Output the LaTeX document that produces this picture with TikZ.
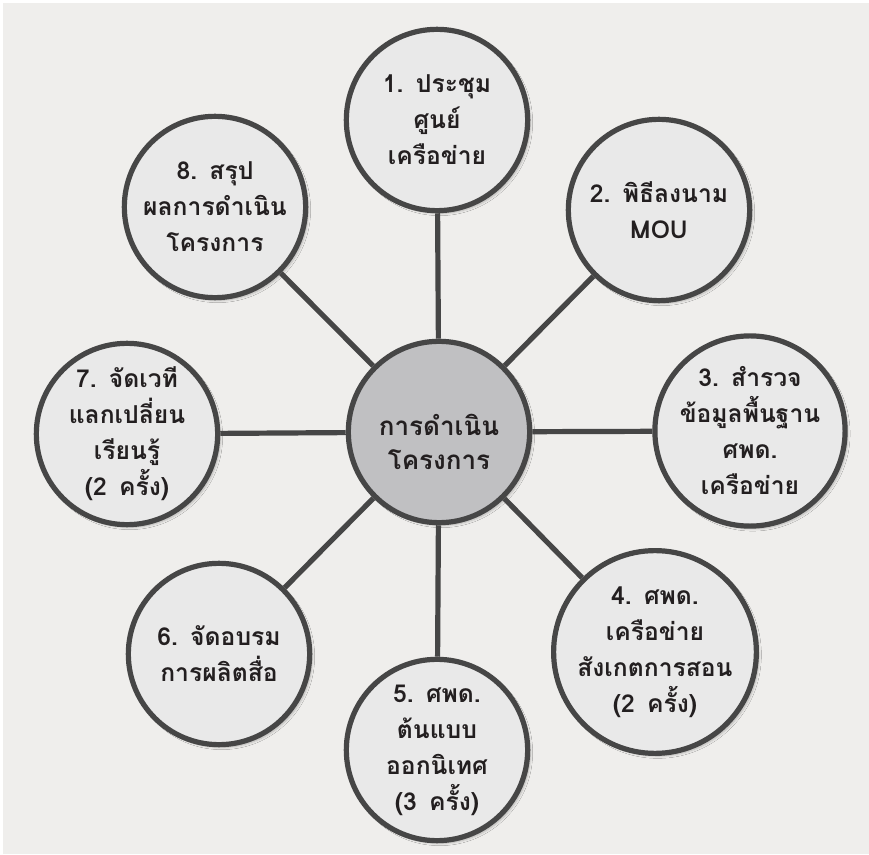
\documentclass[tikz,border=0pt]{standalone}
\usepackage{fontspec}
\newfontfamily\thaifont[Script=Thai]{Loma}
\usetikzlibrary{shadows.blur}

\definecolor{paper}{HTML}{EFEEEC}
\definecolor{rim}{HTML}{464646}
\definecolor{leaf}{HTML}{E9E9E9}
\definecolor{hub}{HTML}{C0C0C2}
\definecolor{ink}{HTML}{231F20}
\newcommand{\numgap}{\hspace{0.5em}}

\begin{document}
\begin{tikzpicture}[x=0.75pt,y=0.75pt,yscale=-1,xscale=1,
    bubble/.style={circle, draw=rim, line width=3.9pt, fill=leaf, minimum size=136pt,
        inner sep=0pt, align=center, text=ink,
        font=\thaifont\bfseries\fontsize{18.5}{27}\selectfont,
        blur shadow={shadow xshift=2pt, shadow yshift=-2pt, shadow opacity=25, shadow blur steps=6}},
    hubbubble/.style={bubble, fill=hub},
    hubtext/.style={align=center, text=ink, inner sep=0pt,
        font=\thaifont\bfseries\fontsize{19.5}{26}\selectfont},
    spoke/.style={draw=rim, line width=3.9pt}]

            % Frame
            \useasboundingbox (0,0) rectangle (869,855);
            \fill[paper] (3,3) rectangle (869,854);

            % Circles
            \node[hubbubble] (plan) at (439,432) {};
            \node[hubtext] (plantext) at (439,442) {การดำเนิน\\โครงการ};
            \node[bubble] (meet)   at (437,120) {1.\numgap ประชุม\\ศูนย์\\เครือข่าย};
            \node[bubble] (mou)    at (659,210) {2.\numgap พิธีลงนาม\\MOU};
            \node[bubble] (survey) at (750,431) {3.\numgap สำรวจ\\ข้อมูลพื้นฐาน\\ศพด.\\เครือข่าย};
            \node[bubble] (observe) at (655,652) {4.\numgap ศพด.\\เครือข่าย\\สังเกตการสอน\\(2\numgap ครั้ง)};
            \node[bubble] (model)  at (437,750) {5.\numgap ศพด.\\ต้นแบบ\\ออกนิเทศ\\(3\numgap ครั้ง)};
            \node[bubble] (train)  at (219,654) {6.\numgap จัดอบรม\\การผลิตสื่อ};
            \node[bubble] (forum)  at (127,434) {7.\numgap จัดเวที\\แลกเปลี่ยน\\เรียนรู้\\(2\numgap ครั้ง)};
            \node[bubble] (sum)    at (215,207) {8.\numgap สรุป\\ผลการดำเนิน\\โครงการ};

            % Lines
            \draw[spoke] (plan) -- (meet);
            \draw[spoke] (plan) -- (mou);
            \draw[spoke] (plan) -- (survey);
            \draw[spoke] (plan) -- (observe);
            \draw[spoke] (plan) -- (model);
            \draw[spoke] (plan) -- (train);
            \draw[spoke] (plan) -- (forum);
            \draw[spoke] (plan) -- (sum);

\end{tikzpicture}
\end{document}
